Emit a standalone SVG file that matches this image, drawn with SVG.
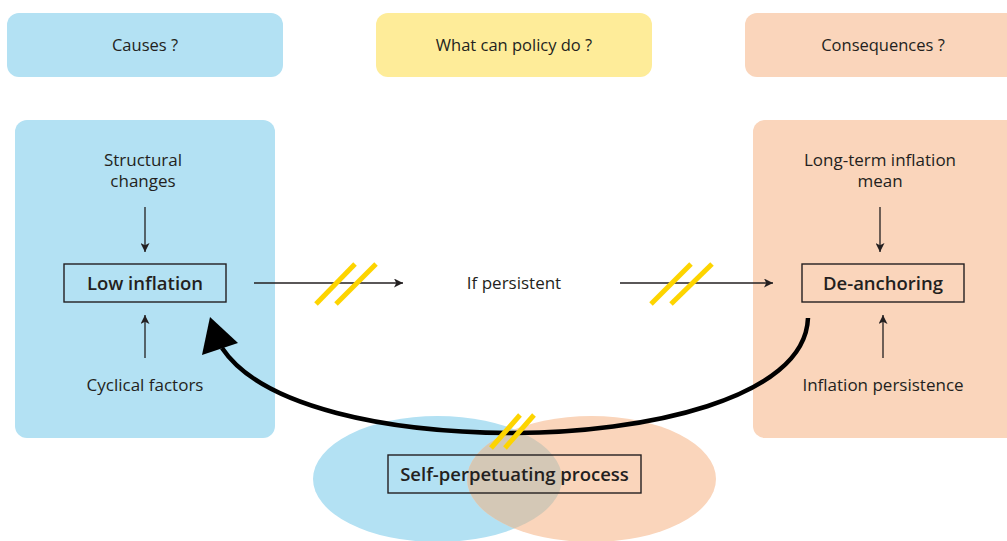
<svg xmlns="http://www.w3.org/2000/svg" width="1007" height="541" viewBox="0 0 1007 541">
<style>
text{font-family:"Open Sans","Noto Sans","Liberation Sans",sans-serif;fill:#231f20;text-anchor:middle}
.t{font-size:17px}
.h{font-size:16.5px}
.b{font-size:18.5px;font-weight:600}
.ln{stroke:#231f20;stroke-width:1.3;fill:none}
.box{fill:none;stroke:#231f20;stroke-width:1.4}
.hatch{stroke:#fdd400;stroke-width:5;fill:none}
.blue{fill:#b3e1f3}
.orange{fill:#fad5bb}
</style>
<defs>
<marker id="ah" viewBox="0 0 10 10" refX="10" refY="5" markerWidth="9" markerHeight="9" markerUnits="userSpaceOnUse" orient="auto">
<path d="M0,0 L10,5 L0,10 L2.5,5 z" fill="#231f20"/>
</marker>
<clipPath id="cb"><ellipse cx="437.5" cy="479" rx="124.5" ry="63"/></clipPath>
</defs>

<g id="header-causes">
<rect class="blue" x="7" y="13" width="276" height="64" rx="12"/>
<text class="h" x="145" y="51">Causes ?</text>
</g>
<g id="header-policy">
<rect x="376" y="13" width="276" height="64" rx="12" fill="#feec99"/>
<text class="h" x="514" y="51">What can policy do ?</text>
</g>
<g id="header-consequences">
<rect class="orange" x="745" y="13" width="280" height="64" rx="12"/>
<text class="h" x="883" y="51">Consequences ?</text>
</g>

<g id="panel-causes">
<rect class="blue" x="15" y="120" width="260" height="318" rx="12"/>
</g>
<g id="panel-consequences">
<rect class="orange" x="753" y="120" width="280" height="318" rx="12"/>
</g>

<g id="self-perpetuating">
<ellipse class="blue" cx="437.5" cy="479" rx="124.5" ry="63"/>
<ellipse class="orange" cx="591.5" cy="479" rx="124.5" ry="63"/>
<ellipse cx="591.5" cy="479" rx="124.5" ry="63" fill="#d4c8b6" clip-path="url(#cb)"/>
<rect class="box" x="388" y="455" width="253" height="38"/>
<text class="b" x="514.5" y="480.5">Self-perpetuating process</text>
</g>

<g id="structural">
<text class="t" x="143" y="166">Structural</text>
<text class="t" x="143" y="187">changes</text>
</g>
<g id="low-inflation">
<rect class="box" x="64" y="264" width="162" height="38"/>
<text class="b" x="145" y="289.5">Low inflation</text>
</g>
<g id="cyclical">
<text class="t" x="145" y="391">Cyclical factors</text>
</g>
<g id="if-persistent">
<text class="t" x="514" y="289">If persistent</text>
</g>
<g id="long-term">
<text class="t" x="880" y="166">Long-term inflation</text>
<text class="t" x="880" y="187">mean</text>
</g>
<g id="de-anchoring">
<rect class="box" x="802" y="264" width="162" height="38"/>
<text class="b" x="883" y="289.5">De-anchoring</text>
</g>
<g id="inflation-persistence">
<text class="t" x="883" y="391">Inflation persistence</text>
</g>

<g id="connectors">
<line class="ln" x1="145" y1="207" x2="145" y2="252" marker-end="url(#ah)"/>
<line class="ln" x1="145" y1="358" x2="145" y2="315" marker-end="url(#ah)"/>
<line class="ln" x1="880" y1="207" x2="880" y2="252" marker-end="url(#ah)"/>
<line class="ln" x1="883" y1="358" x2="883" y2="315" marker-end="url(#ah)"/>
<line class="ln" x1="254" y1="283" x2="403" y2="283" marker-end="url(#ah)"/>
<line class="ln" x1="620" y1="283" x2="773" y2="283" marker-end="url(#ah)"/>
<line class="hatch" x1="316" y1="304" x2="355" y2="264"/>
<line class="hatch" x1="336" y1="304" x2="376" y2="264"/>
<line class="hatch" x1="651" y1="304" x2="691" y2="264"/>
<line class="hatch" x1="671" y1="304" x2="712" y2="264"/>
<path d="M808,318 C805,400 640,433 515,433 C390,433 262,408 222,348" fill="none" stroke="#000" stroke-width="4.5"/>
<polygon points="210,317 202,355 238,343" fill="#000"/>
<line class="hatch" x1="491" y1="448" x2="520" y2="415"/>
<line class="hatch" x1="505" y1="448" x2="534" y2="415"/>
</g>
</svg>
